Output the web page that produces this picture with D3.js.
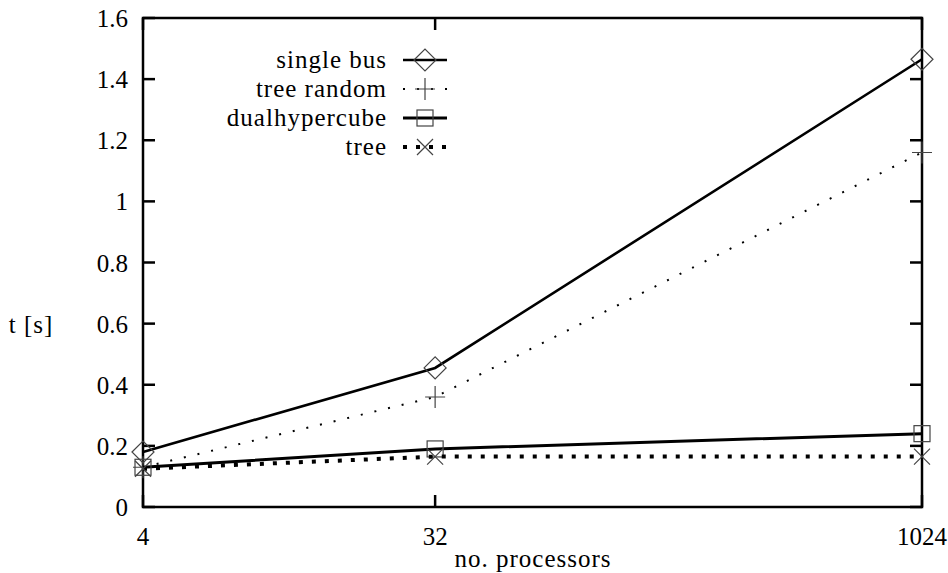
<!DOCTYPE html>
<html><head><meta charset="utf-8">
<script src="https://cdn.jsdelivr.net/npm/d3@7"></script>
<style>body{margin:0;background:#fff}</style>
</head><body><svg id="c" width="948" height="573" style="font-family:'Liberation Serif','DejaVu Serif',serif;font-size:25px"></svg>
<script>
const processors = [4, 32, 1024];
const yTicks = [0, 0.2, 0.4, 0.6, 0.8, 1, 1.2, 1.4, 1.6];
const singleBus = [0.18, 0.455, 1.465];
const treeRandom = [0.13, 0.36, 1.16];
const dualHypercube = [0.13, 0.19, 0.24];
const tree = [0.125, 0.165, 0.165];
const seriesNames = ["single bus", "tree random", "dualhypercube", "tree"];

const svg = d3.select("#c");
const FONT = "Liberation Serif, DejaVu Serif, serif";
const L = 143, R = 922, T = 18, B = 507;
const x = d3.scaleLog().base(2).domain([4, 1024]).range([L, R]);
const y = d3.scaleLinear().domain([0, 1.6]).range([B, T]);

const series = [
  {name: seriesNames[0], vals: singleBus, w: 2.6, dash: null, marker: "diamond"},
  {name: seriesNames[1], vals: treeRandom, w: 2, dash: "2,12", marker: "plus"},
  {name: seriesNames[2], vals: dualHypercube, w: 3, dash: null, marker: "square"},
  {name: seriesNames[3], vals: tree, w: 4, dash: "4,9", marker: "cross"}
];

function txt(xp, yp, anchor, s, ls) {
  return svg.append("text").attr("x", xp).attr("y", yp).attr("text-anchor", anchor)
    .attr("font-family", FONT).attr("font-size", 25).attr("letter-spacing", ls || 0).text(s);
}

// ticks
const tk = svg.append("g").attr("stroke", "#000").attr("stroke-width", 2.5);
yTicks.forEach(v => {
  tk.append("line").attr("x1", L).attr("x2", L + 12).attr("y1", y(v)).attr("y2", y(v));
  tk.append("line").attr("x1", R).attr("x2", R - 12).attr("y1", y(v)).attr("y2", y(v));
});
processors.forEach(p => {
  tk.append("line").attr("x1", x(p)).attr("x2", x(p)).attr("y1", B).attr("y2", B - 12);
  tk.append("line").attr("x1", x(p)).attr("x2", x(p)).attr("y1", T).attr("y2", T + 12);
});
yTicks.forEach(d => txt(128, y(d) + 9, "end", d3.format("")(d)));
processors.forEach(d => txt(x(d), 545, "middle", d));
txt(533, 567, "middle", "no. processors", "1px");
txt(31, 333, "middle", "t [s]", "1px");

// frame
svg.append("rect").attr("x", L).attr("y", T).attr("width", R - L).attr("height", B - T)
  .attr("fill", "none").attr("stroke", "#000").attr("stroke-width", 2.5);

function marker(g, type, cx, cy) {
  const s = g.append("g").attr("stroke", "#444").attr("stroke-width", 1.2).attr("fill", "none");
  if (type === "diamond") s.append("path").attr("d", `M${cx-11},${cy}L${cx},${cy-11}L${cx+11},${cy}L${cx},${cy+11}Z`);
  if (type === "plus") s.append("path").attr("d", `M${cx-10},${cy}H${cx+10}M${cx},${cy-11}V${cy+11}`);
  if (type === "square") s.append("rect").attr("x", cx-8).attr("y", cy-8).attr("width", 16).attr("height", 16);
  if (type === "cross") s.append("path").attr("d", `M${cx-8},${cy-8}L${cx+8},${cy+8}M${cx-8},${cy+8}L${cx+8},${cy-8}`);
}

const line = d3.line().x((d, i) => x(processors[i])).y(d => y(d));
series.forEach(s => {
  svg.append("path").attr("d", line(s.vals)).attr("fill", "none").attr("stroke", "#000")
    .attr("stroke-width", s.w).attr("stroke-dasharray", s.dash);
  s.vals.forEach((v, i) => marker(svg, s.marker, x(processors[i]), y(v)));
});

// legend
const ly = [60, 89, 118, 147];
series.forEach((s, i) => {
  txt(387, ly[i] + 8, "end", s.name, "1px");
  svg.append("line").attr("x1", 403).attr("x2", 447).attr("y1", ly[i]).attr("y2", ly[i])
    .attr("stroke", "#000").attr("stroke-width", s.w).attr("stroke-dasharray", s.dash);
  marker(svg, s.marker, 425, ly[i]);
});
</script></body></html>
